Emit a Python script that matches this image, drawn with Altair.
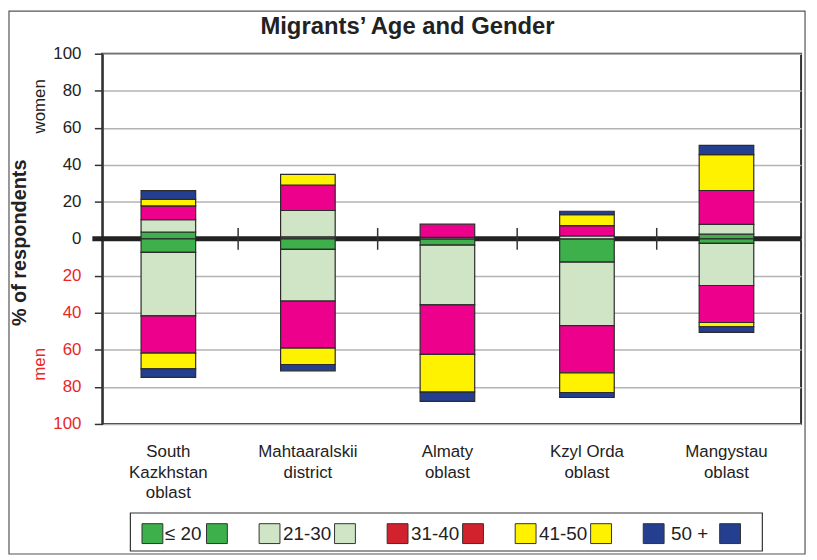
import altair as alt
import pandas as pd

# ---------------- data ----------------
regions = ["South Kazkhstan oblast", "Mahtaaralskii district", "Almaty oblast",
           "Kzyl Orda oblast", "Mangystau oblast"]
region_labels = ["South\nKazkhstan\noblast", "Mahtaaralskii\ndistrict", "Almaty\noblast",
                 "Kzyl Orda\noblast", "Mangystau\noblast"]
ages = ["≤ 20", "21-30", "31-40", "41-50", "50 +"]
y_ticks = [-100, -80, -60, -40, -20, 0, 20, 40, 60, 80, 100]

# % of respondents per age group (≤20, 21-30, 31-40, 41-50, 50+)
women_south = [3.7, 6.6, 7.5, 3.5, 4.7]
women_maht = [1.1, 14.2, 13.7, 5.8, 0.0]
women_almaty = [0.0, 0.8, 7.1, 0.0, 0.0]
women_kzyl = [0.0, 1.6, 5.5, 5.9, 1.9]
women_mang = [2.5, 5.3, 18.3, 19.4, 5.0]

men_south = [7.3, 34.3, 20.1, 8.5, 4.6]
men_maht = [5.7, 27.9, 25.4, 8.9, 3.4]
men_almaty = [3.4, 32.3, 26.7, 20.4, 5.0]
men_kzyl = [12.6, 34.3, 25.5, 10.6, 2.7]
men_mang = [2.5, 22.7, 20.0, 2.3, 3.0]

women = [women_south, women_maht, women_almaty, women_kzyl, women_mang]
men = [men_south, men_maht, men_almaty, men_kzyl, men_mang]

bar_colors = ["#3db04b", "#cfe5c5", "#ec008c", "#fff200", "#243f8f"]
legend_colors = ["#3db04b", "#cfe5c5", "#d2222d", "#fff200", "#243f8f"]

# ---------------- layout (pixels, relative to plot area) ----------------
W, H = 704, 373
leg_sqA = [40, 158, 287, 416, 545]      # left edges of first square of each pair
leg_lab = [63, 182, 311, 440, 573]      # label start
leg_sqB = [105, 234, 363, 492, 622]     # left edges of second square
LEG_SQ_W, LEG_Y0, LEG_Y1 = 21, 473.5, 493.5

# ---------------- tables ----------------
rows = []
for i, reg in enumerate(regions):
    for j, age in enumerate(ages):
        if women[i][j] > 0:
            rows.append({"pos": i, "region": reg, "key": f"w{j}", "order": j,
                         "value": women[i][j]})
        if men[i][j] > 0:
            rows.append({"pos": i, "region": reg, "key": f"m{j}", "order": j,
                         "value": -men[i][j]})
df = pd.DataFrame(rows)

keys, key_colors = [], []
for j in range(len(ages)):
    keys += [f"m{j}", f"w{j}"]
    key_colors += [bar_colors[j], bar_colors[j]]

leg_sq_rows = []
for j in range(len(ages)):
    for x0 in (leg_sqA[j], leg_sqB[j]):
        leg_sq_rows.append({"x": x0, "x2": x0 + LEG_SQ_W, "y": LEG_Y0, "y2": LEG_Y1,
                            "c": legend_colors[j]})
leg_sq_df = pd.DataFrame(leg_sq_rows)
leg_lab_df = pd.DataFrame({"x": leg_lab, "y": [(LEG_Y0 + LEG_Y1) / 2] * len(ages), "t": ages})

sep_df = pd.DataFrame({"pos": [i + 0.5 for i in range(len(regions) - 1)]})
xlab_df = pd.DataFrame({"pos": list(range(len(regions))), "label": region_labels})
ylab_df = pd.DataFrame({"v": y_ticks, "txt": [str(abs(v)) for v in y_ticks],
                        "col": ["#e8262a" if v < 0 else "#222222" for v in y_ticks]})

xscale = alt.Scale(domain=[-0.438, 4.499], nice=False, zero=False)
yscale = alt.Scale(domain=[-100, 100], nice=False)
FONT = "Liberation Sans"

y_axis = alt.Axis(values=y_ticks, labels=False,
                  tickSize=8, tickColor="#333", tickWidth=1.5,
                  domainColor="#333", domainWidth=2,
                  gridColor="#b3b3b3", gridWidth=1.5,
                  title="% of respondents", titleFontSize=20, titleFont=FONT,
                  titleFontWeight="bold", titleColor="#222",
                  titleX=-83, titleY=190, titleAngle=270,
                  titleAlign="center", titleBaseline="middle")

# ---------------- layers ----------------
zero_line = alt.Chart(pd.DataFrame({"z": [0]})).mark_rule(
    color="#222", strokeWidth=5
).encode(y=alt.Y("z:Q", scale=yscale, axis=y_axis), x=alt.value(-10), x2=alt.value(W))

sep_ticks = alt.Chart(sep_df).mark_rule(color="#333", strokeWidth=1.5).encode(
    x=alt.X("pos:Q", scale=xscale, axis=None),
    y=alt.Y(datum=5.9, scale=yscale, axis=y_axis), y2=alt.datum(-5.9),
)

bars = alt.Chart(df).mark_bar(
    orient="vertical", size=55, stroke="#2b2b2b", strokeWidth=1.2
).encode(
    x=alt.X("pos:Q", scale=xscale, axis=None),
    y=alt.Y("value:Q", stack="zero", scale=yscale, axis=y_axis),
    color=alt.Color("key:N", scale=alt.Scale(domain=keys, range=key_colors), legend=None),
    order=alt.Order("order:Q", sort="ascending"),
)

ylabels = alt.Chart(ylab_df).mark_text(
    align="right", baseline="middle", fontSize=17, font=FONT
).encode(
    y=alt.Y("v:Q", scale=yscale, axis=y_axis), x=alt.value(-21),
    text="txt:N", color=alt.Color("col:N", scale=None),
)

xlabels = alt.Chart(xlab_df).mark_text(
    align="center", baseline="top", fontSize=17, font=FONT, color="#222",
    lineBreak="\n", lineHeight=21
).encode(x=alt.X("pos:Q", scale=xscale, axis=None), y=alt.value(H + 20), text="label:N")

leg_box = alt.Chart(pd.DataFrame({"b": [0]})).mark_rect(
    fillOpacity=0, stroke="#333", strokeWidth=1.2
).encode(x=alt.value(28.3), x2=alt.value(665), y=alt.value(462.7), y2=alt.value(501))

leg_squares = alt.Chart(leg_sq_df).mark_rect(stroke="#333", strokeWidth=1).encode(
    x=alt.X("x:Q", scale=None, axis=None), x2="x2:Q",
    y=alt.Y("y:Q", scale=None, axis=None), y2="y2:Q",
    fill=alt.Fill("c:N", scale=None),
)

leg_labels = alt.Chart(leg_lab_df).mark_text(
    align="left", baseline="middle", fontSize=19, font=FONT, color="#222"
).encode(x=alt.X("x:Q", scale=None, axis=None), y=alt.Y("y:Q", scale=None, axis=None),
         text="t:N")

women_txt = alt.Chart(pd.DataFrame({"t": ["women"]})).mark_text(
    angle=270, fontSize=17, font=FONT, color="#222"
).encode(x=alt.value(-63), y=alt.value(53), text="t:N")

men_txt = alt.Chart(pd.DataFrame({"t": ["men"]})).mark_text(
    angle=270, fontSize=17, font=FONT, color="#e8262a"
).encode(x=alt.value(-63), y=alt.value(313), text="t:N")

title_txt = alt.Chart(pd.DataFrame({"t": ["Migrants’ Age and Gender"]})).mark_text(
    fontSize=24, fontWeight="bold", font=FONT, color="#222", baseline="middle", align="center"
).encode(x=alt.value(307.5), y=alt.value(-27), text="t:N")

border = alt.Chart(pd.DataFrame({"b": [0]})).mark_rect(
    fillOpacity=0, stroke="#555", strokeWidth=1.2
).encode(x=alt.value(-94), x2=alt.value(708), y=alt.value(-43), y2=alt.value(504))

chart = alt.layer(
    zero_line, sep_ticks, bars, ylabels, xlabels,
    leg_box, leg_squares, leg_labels,
    women_txt, men_txt, title_txt, border
).properties(
    width=W, height=H, background="white",
    autosize=alt.AutoSizeParams(type="none"),
    padding={"left": 95, "top": 44, "right": 8, "bottom": 134},
).configure_view(stroke="#333", strokeWidth=2)

chart.save("out.html", embed_options={"renderer": "svg", "actions": False})
